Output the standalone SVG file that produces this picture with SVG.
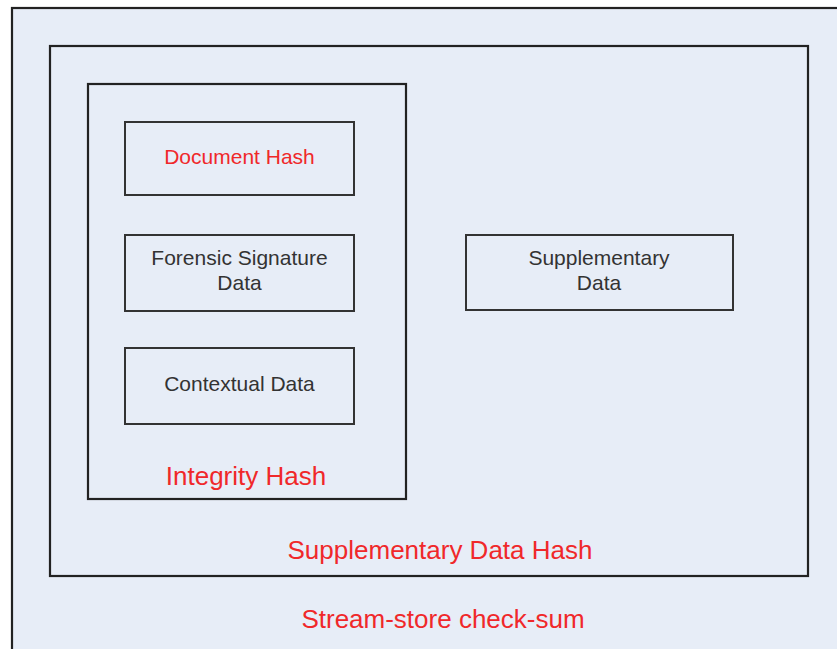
<svg xmlns="http://www.w3.org/2000/svg" width="837" height="649" viewBox="0 0 837 649">
<style>
.box{fill:#e7edf7;stroke:#222;stroke-width:2.2}
.inner{fill:#e7edf7;stroke:#333;stroke-width:2}
.t{font-family:"Liberation Sans",Arial,sans-serif;font-size:21px;fill:#333;text-anchor:middle}
.r{font-family:"Liberation Sans",Arial,sans-serif;font-size:26px;fill:#f0282a;text-anchor:middle}
</style>
<rect width="837" height="649" fill="#ffffff"/>
<g id="stream-store">
<rect class="box" x="12" y="8" width="840" height="660"/>
<text class="r" x="443" y="628">Stream-store check-sum</text>
</g>
<g id="supplementary-data-hash">
<rect class="box" x="50" y="46" width="758" height="530"/>
<text class="r" x="440" y="559">Supplementary Data Hash</text>
</g>
<g id="integrity-hash">
<rect class="box" x="88" y="84" width="318" height="415"/>
<text class="r" x="246" y="485">Integrity Hash</text>
</g>
<g id="document-hash">
<rect class="inner" x="125" y="122" width="229" height="73"/>
<text class="t" x="239.5" y="164" style="fill:#f0282a">Document Hash</text>
</g>
<g id="forensic-signature-data">
<rect class="inner" x="125" y="235" width="229" height="76"/>
<text class="t" x="239.5" y="265">Forensic Signature</text>
<text class="t" x="239.5" y="290">Data</text>
</g>
<g id="contextual-data">
<rect class="inner" x="125" y="348" width="229" height="76"/>
<text class="t" x="239.5" y="391">Contextual Data</text>
</g>
<g id="supplementary-data">
<rect class="inner" x="466" y="235" width="267" height="75"/>
<text class="t" x="599" y="265">Supplementary</text>
<text class="t" x="599" y="290">Data</text>
</g>
<g id="connectors"></g>
</svg>
